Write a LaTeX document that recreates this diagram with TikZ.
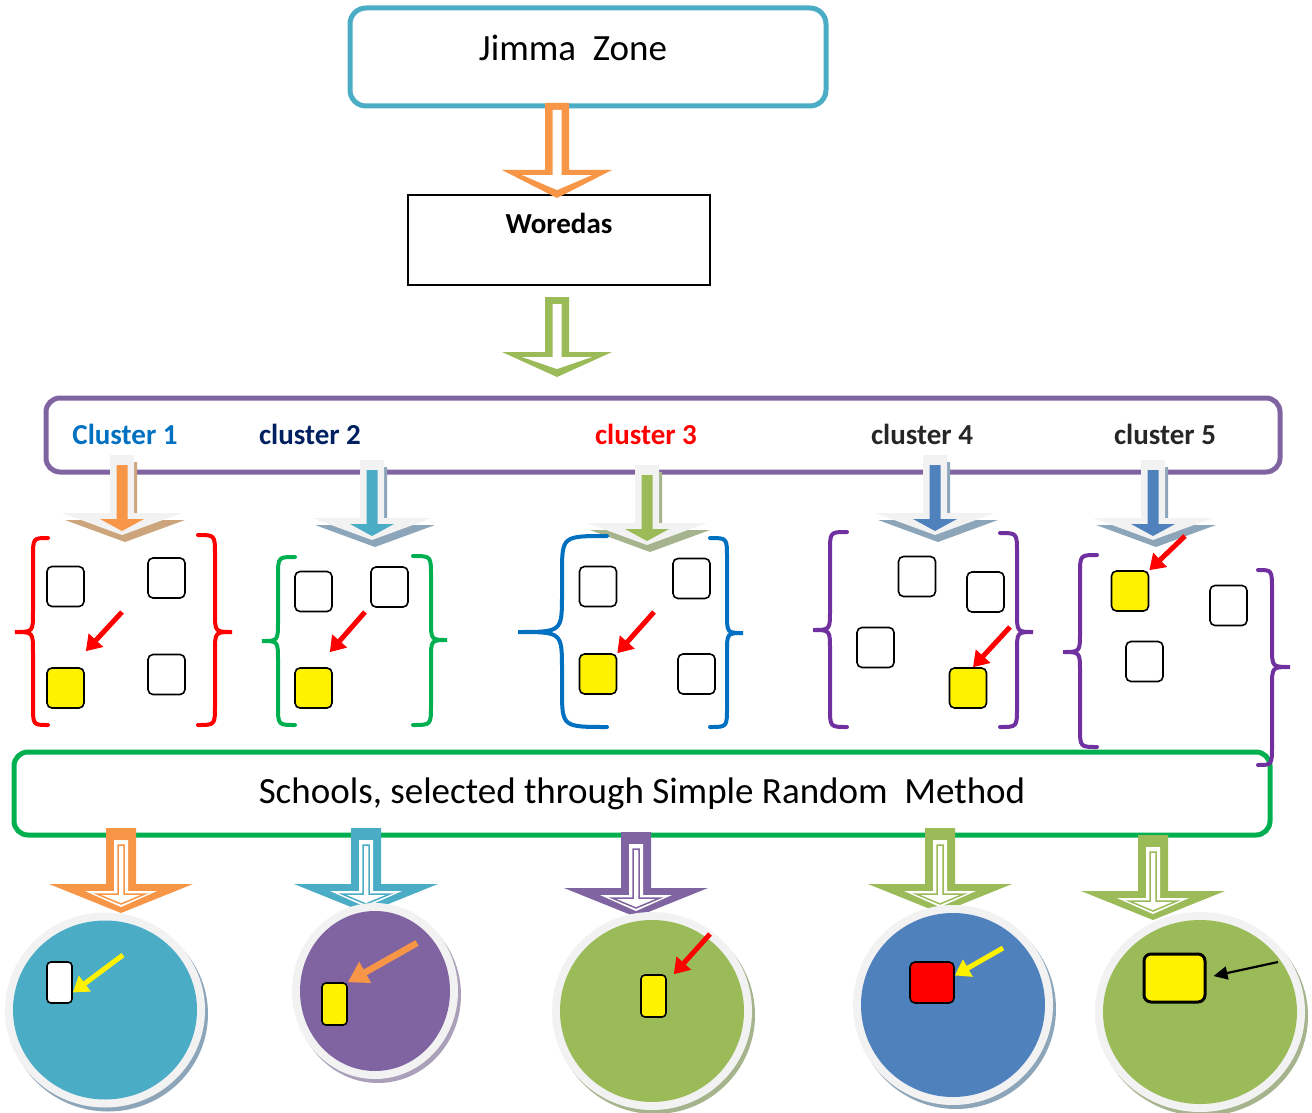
\documentclass[tikz,border=0pt]{standalone}
\usepackage{fontspec}
\setmainfont{Carlito}
\usetikzlibrary{arrows.meta, positioning}

\definecolor{zoneblue}{HTML}{4BACC6}
\definecolor{flowgreen}{HTML}{9BBB59}
\definecolor{floworange}{HTML}{F79646}
\definecolor{flowpurple}{HTML}{8064A2}
\definecolor{flowblue}{HTML}{4F81BD}
\definecolor{brightgreen}{HTML}{00B050}
\definecolor{deeppurple}{HTML}{7030A0}
\definecolor{labelblue}{HTML}{0070C0}
\definecolor{labelnavy}{HTML}{002060}
\definecolor{ringgrey}{HTML}{F2F2F2}
\definecolor{tanshadow}{RGB}{205,165,125}
\definecolor{blueshadow}{RGB}{140,165,185}
\definecolor{greenshadow}{RGB}{165,180,140}
\definecolor{purpleshadow}{RGB}{170,160,185}

% hollow block arrow: x, top, head top, tip, colour
\newcommand{\hollowarrow}[5]{%
  \fill[#5] (#1-12,#2) -- (#1-12,#3) -- (#1-55,#3) -- (#1,#4) -- (#1+55,#3)
    -- (#1+12,#3) -- (#1+12,#2) -- cycle;
  \fill[white] (#1-4.5,#2+7) -- (#1-4.5,#3+5) -- (#1-35,#3+5) -- (#1,#4-8) -- (#1+35,#3+5)
    -- (#1+4.5,#3+5) -- (#1+4.5,#2+7) -- cycle;
}
% grey arrow with shadow and a thin coloured arrow inside: x, top, colour, shadow
\newcommand{\clusterarrow}[4]{%
  \fill[#4, shift={(3,7)}] (#1-12,#2) -- (#1-12,#2+58) -- (#1-60,#2+58) -- (#1,#2+80)
    -- (#1+60,#2+58) -- (#1+12,#2+58) -- (#1+12,#2) -- cycle;
  \fill[ringgrey] (#1-12,#2) -- (#1-12,#2+58) -- (#1-60,#2+58) -- (#1,#2+80)
    -- (#1+60,#2+58) -- (#1+12,#2+58) -- (#1+12,#2) -- cycle;
  \fill[#3] (#1-5.5,#2+10) -- (#1-5.5,#2+64) -- (#1-22,#2+64) -- (#1,#2+76)
    -- (#1+22,#2+64) -- (#1+5.5,#2+64) -- (#1+5.5,#2+10) -- cycle;
}
% filled block arrow with a white double outline: x, top, colour
\newcommand{\schoolarrow}[3]{%
  \fill[#3] (#1-15,#2) -- (#1-15,#2+56) -- (#1-72,#2+56) -- (#1,#2+85)
    -- (#1+72,#2+56) -- (#1+15,#2+56) -- (#1+15,#2) -- cycle;
  \fill[white] (#1-7,#2+12) -- (#1-7,#2+63) -- (#1-36,#2+63) -- (#1,#2+79)
    -- (#1+36,#2+63) -- (#1+7,#2+63) -- (#1+7,#2+12) -- cycle;
  \draw[#3, line width=1.5pt] (#1-3,#2+17) -- (#1-3,#2+66) -- (#1-24,#2+66) -- (#1,#2+76)
    -- (#1+24,#2+66) -- (#1+3,#2+66) -- (#1+3,#2+17) -- cycle;
}
% disc with grey ring and shadow: cx, cy, rx, ry, colour, shadow
\newcommand{\schoolcircle}[6]{%
  \fill[#6] (#1+3,#2+4) ellipse [x radius=#3pt, y radius=#4pt];
  \fill[ringgrey] (#1,#2) ellipse [x radius=#3pt, y radius=#4pt];
  \fill[#5] (#1,#2) ellipse [x radius=#3pt-8pt, y radius=#4pt-8pt];
}
% curly brace: tip x, stem x, end x, top, middle, bottom, bend, colour
\newcommand{\curlybrace}[8]{%
  \draw[#8, line width=4pt, line cap=round]
    (#3,#4) .. controls (#2,#4) .. (#2,#4+#7) -- (#2,#5-#7)
    .. controls (#2,#5) .. (#1,#5) .. controls (#2,#5) .. (#2,#5+#7)
    -- (#2,#6-#7) .. controls (#2,#6) .. (#3,#6);
}

\begin{document}
\begin{tikzpicture}[x=1pt, y=-1pt,
  bigbox/.style={rounded corners=16pt, line width=5pt, inner sep=0pt},
  chip/.style={draw=black, line width=1.6pt, rounded corners=5pt, inner sep=0pt,
    minimum width=37pt, minimum height=40pt},
  blank/.style={chip, fill=white},
  picked/.style={chip, fill=yellow},
  pointer/.style={line width=5pt, -{Triangle[length=15pt, width=19pt]}},
  clusterlabel/.style={font=\fontsize{29}{32}\selectfont\bfseries},
  bigtext/.style={font=\fontsize{37}{40}\selectfont}]
\useasboundingbox (0,0) rectangle (1312,1113);

% top of the flow
\node[bigbox, draw=zoneblue, minimum width=476pt, minimum height=98pt] (jimma) at (588,57) {};
\node[bigtext] (jimmatext) at (573,48) {Jimma~ Zone};
\node[draw=black, line width=1.5pt, minimum width=302pt, minimum height=90pt] (woredas) at (559,240) {};
\node[font=\fontsize{29}{32}\selectfont\bfseries, below=15pt of woredas.north] (woredastext) {Woredas};
\hollowarrow{557}{103}{170}{198}{floworange}
\hollowarrow{557}{297}{352}{377}{flowgreen}

% clusters
\node[bigbox, draw=flowpurple, rounded corners=14pt, minimum width=1234pt, minimum height=74pt] (clusters) at (663,435) {};
\node[clusterlabel, text=labelblue] (lab1) at (125,434) {Cluster 1};
\node[clusterlabel, text=labelnavy] (lab2) at (310,434) {cluster 2};
\node[clusterlabel, text=red] (lab3) at (646,434) {cluster 3};
\node[clusterlabel, text=black!85] (lab4) at (922,434) {cluster 4};
\node[clusterlabel, text=black!85] (lab5) at (1165,434) {cluster 5};

\clusterarrow{122}{455}{floworange}{tanshadow}
\clusterarrow{372}{460}{zoneblue}{blueshadow}
\clusterarrow{647}{465}{flowgreen}{greenshadow}
\clusterarrow{935}{455}{flowblue}{blueshadow}
\clusterarrow{1153}{460}{flowblue}{blueshadow}

\curlybrace{15}{33}{48}{538}{632}{725}{20}{red}
\curlybrace{232}{215}{198}{535}{632}{725}{20}{red}
\curlybrace{262}{278}{295}{557}{641}{725}{20}{brightgreen}
\curlybrace{447}{431}{413}{556}{640}{725}{20}{brightgreen}
\curlybrace{518}{562}{607}{536}{632}{727}{38}{labelblue}
\curlybrace{743}{727}{710}{538}{633}{727}{20}{labelblue}
\curlybrace{813}{830}{847}{532}{630}{727}{20}{deeppurple}
\curlybrace{1033}{1017}{1000}{533}{632}{727}{20}{deeppurple}
\curlybrace{1063}{1080}{1097}{555}{652}{747}{20}{deeppurple}

% cluster 1
\node[blank] (c1a) at (65.5,586.5) {};
\node[blank] (c1b) at (166.5,578) {};
\node[picked] (c1y) at (65.5,688) {};
\node[blank] (c1c) at (166.5,674.5) {};
\draw[pointer, red] (122,612) -- ([shift={(1,-16)}]c1y.north east);
% cluster 2
\node[blank] (c2a) at (313.5,591.5) {};
\node[blank] (c2b) at (389.5,587) {};
\node[picked] (c2y) at (313.5,688) {};
\draw[pointer, red] (365,612) -- ([shift={(-3,-15)}]c2y.north east);
% cluster 3
\node[blank] (c3a) at (598,586.5) {};
\node[blank] (c3b) at (691.5,578.5) {};
\node[picked] (c3y) at (598,674) {};
\node[blank] (c3c) at (696.5,674) {};
\draw[pointer, red] (654,612) -- (c3y.north east);
% cluster 4
\node[blank] (c4a) at (917,576.5) {};
\node[blank] (c4b) at (985.5,592) {};
\node[blank] (c4c) at (875.5,647.5) {};
\node[picked] (c4y) at (968,688) {};
\draw[pointer, red] (1010,627) -- ([shift={(5,0)}]c4y.north);
% cluster 5
\node[picked] (c5y) at (1130,591) {};
\node[blank] (c5a) at (1228.5,605.5) {};
\node[blank] (c5b) at (1144.5,661.5) {};
\draw[pointer, red] (1185,536) -- (c5y.north east);

% selection
\node[bigbox, draw=brightgreen, rounded corners=14pt, minimum width=1256pt, minimum height=83pt, bigtext] (schools) at (642,793.5) {Schools, selected through Simple Random~ Method};
\curlybrace{1290}{1272}{1258}{570}{667}{765}{20}{deeppurple}

\schoolarrow{121}{828}{floworange}
\schoolarrow{366}{828}{zoneblue}
\schoolarrow{636}{832}{flowpurple}
\schoolarrow{940}{828}{flowgreen}
\schoolarrow{1153}{835}{flowgreen}

% selected schools
\schoolcircle{105}{1010}{100}{97.5}{zoneblue}{blueshadow}
\schoolcircle{375}{991}{83}{88}{flowpurple}{purpleshadow}
\schoolcircle{652}{1011}{100}{99}{flowgreen}{greenshadow}
\schoolcircle{953}{1005}{100}{100}{flowblue}{blueshadow}
\schoolcircle{1200}{1012}{105}{100}{flowgreen}{greenshadow}

\node[chip, fill=white, minimum width=25pt, minimum height=41pt, rounded corners=4pt] (s1) at (59.5,982.5) {};
\draw[pointer, yellow, line width=5pt] (123,955) -- ([shift={(0,10)}]s1.east);
\node[chip, fill=yellow, minimum width=25pt, minimum height=42pt, rounded corners=4pt] (s2) at (334.5,1004) {};
\draw[floworange, line width=6.5pt, -{Triangle[length=20pt, width=23pt]}] (417,943) -- (s2.north east);
\node[chip, fill=yellow, minimum width=25pt, minimum height=42pt, rounded corners=4pt] (s3) at (653.5,996) {};
\draw[pointer, red] (710,934) -- ([shift={(7,0)}]s3.north east);
\node[chip, fill=red, minimum width=44pt, minimum height=41pt] (s4) at (932,982.5) {};
\draw[pointer, yellow] (1003,948) -- ([shift={(0,-7)}]s4.east);
\node[chip, fill=yellow, line width=3pt, minimum width=61pt, minimum height=48pt, rounded corners=7pt] (s5) at (1174.5,978) {};
\draw[black, line width=2.2pt, -{Triangle[length=14pt, width=13pt]}] (1278,962) -- ([shift={(7,-2)}]s5.east);
\end{tikzpicture}
\end{document}
